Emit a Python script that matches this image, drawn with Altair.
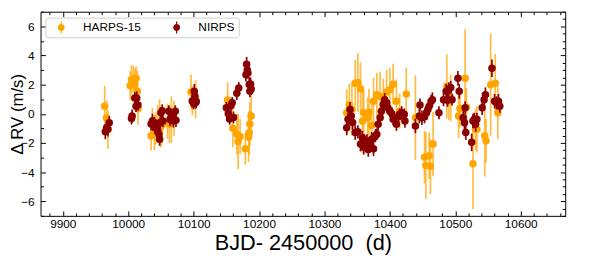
import altair as alt
import pandas as pd

# ---------------- data ----------------
harps_t = [9964, 9967, 9969,
           10003, 10005, 10008, 10010, 10012, 10014, 10015,
           10035, 10037, 10040, 10042, 10045, 10048, 10050, 10052,
           10060, 10063, 10066, 10070,
           10096, 10098, 10103,
           10152, 10160, 10166, 10168, 10171, 10179, 10184, 10185, 10186, 10188,
           10334, 10338, 10342, 10347, 10351, 10355, 10358, 10360, 10366, 10368,
           10372, 10375, 10380, 10385, 10390, 10395, 10400, 10405, 10410, 10415,
           10425, 10439, 10453, 10455, 10460, 10462, 10466, 10487, 10490, 10493,
           10505, 10507, 10515, 10517, 10527, 10531, 10533, 10545, 10547, 10554,
           10561, 10565]
harps_rv = [0.52, -0.27, -1.1,
            1.93, 2.33, 2.4, 2.0, 2.44, 1.54, 0.35,
            -1.51, -0.6, -1.3, -1.0, -0.7, -0.6, -0.9, -0.72,
            -0.5, -0.7, -0.4, -0.3,
            1.5, 0.9, 1.0,
            0.95, -1.0, -1.4, -1.9, -1.55, -2.4, -1.6, -1.3, -0.7, -0.15,
            0.07, 0.6, 0.3, 2.1, 2.15, 1.72, -0.5, 0.07, -0.27, 0.1,
            -0.8, 0.86, 1.31, 1.2, 1.0, 1.5, 1.65, 2.03, 0.86, 0.18,
            1.36, -0.27, -2.98, -3.55, -2.87, -3.6, -2.08, 1.88, 0.86, 1.1,
            -0.16, 0.36, 2.44, 0.45, -3.43, -1.06, -1.06, -1.51, -1.85, 1.99,
            2.1, 0.07]
harps_err = [1.4, 1.2, 1.3,
             1.0, 1.0, 0.9, 1.1, 0.8, 1.4, 1.1,
             1.0, 1.0, 1.2, 1.1, 1.3, 1.6, 1.4, 1.3,
             1.2, 1.3, 1.6, 1.2,
             1.2, 1.0, 1.3,
             1.2, 1.3, 1.4, 1.9, 1.2, 1.1, 1.7, 1.5, 1.5, 1.6,
             1.6, 1.5, 1.8, 1.6, 2.0, 1.8, 2.2, 1.5, 1.4, 1.6,
             1.5, 1.6, 1.5, 1.7, 1.4, 1.5, 1.5, 1.4, 1.5, 1.2,
             1.8, 2.9, 1.8, 2.3, 1.6, 1.9, 2.2, 2.2, 1.3, 1.6,
             1.5, 1.3, 3.35, 1.3, 3.1, 1.4, 1.6, 2.8, 1.5, 3.5,
             2.0, 1.8]

nirps_t = [9965, 9967, 9969, 9971,
           10005, 10006, 10010, 10012, 10013, 10015,
           10035, 10037, 10040, 10041, 10043, 10045, 10047, 10048, 10049, 10050,
           10052, 10053,
           10062, 10064, 10066, 10069, 10072, 10073,
           10098, 10100, 10101, 10102, 10103, 10104,
           10150, 10153, 10155, 10157, 10159, 10161, 10166, 10169, 10180, 10181,
           10182, 10183, 10185, 10186, 10187, 10188,
           10334, 10336, 10339, 10341, 10343, 10347, 10351, 10355, 10358, 10360,
           10363, 10365, 10367, 10370, 10372, 10375, 10378, 10380, 10382, 10385,
           10387, 10390, 10392, 10395, 10397, 10400, 10403, 10405, 10410, 10413,
           10415, 10418, 10422, 10423, 10439, 10445, 10446, 10449, 10453, 10456,
           10458, 10460, 10463, 10465, 10475, 10482, 10486, 10488, 10490, 10493,
           10495, 10504, 10506, 10512, 10514, 10515, 10516, 10525, 10527, 10529,
           10531, 10533, 10541, 10544, 10546, 10556, 10560, 10563, 10566, 10568]
nirps_rv = [-1.24, -0.95, -1.05, -0.61,
            -0.33, -0.16, 1.09, 0.52, 1.09, 0.6,
            -0.7, -0.5, -0.61, -0.95, -0.8, -1.17, -1.4, -1.74, -0.6, 0.07,
            0.2, -0.5,
            0.18, -0.4, -0.2, -0.5, 0.18, -0.45,
            0.87, 0.7, 1.54, 1.2, 0.76, 0.85,
            0.41, 0.0, -0.35, 0.55, 0.75, -0.25, 1.4, 1.77, 2.67, 3.4,
            3.0, 2.8, 2.0, 1.54, 2.05, 1.7,
            -0.95, -0.38, 0.3, -0.16, -0.6, -1.29, -1.24, -2.08, -1.63, -2.3,
            -2.2, -1.9, -2.45, -2.2, -1.75, -2.4, -1.5, -1.4, -0.72, -0.27,
            0.18, 0.63, 0.97, 0.75, 0.41, 0.18, 0.0, -0.38, -0.72, -0.2,
            -0.04, 0.07, -0.04, -0.5, -0.83, -0.16, 0.6, -0.27, -0.2, 0.07,
            0.3, 0.52, 0.86, 0.97, 0.07, 0.97, 1.54, 0.93, 1.65, 1.81,
            0.97, 2.44, 1.54, -0.27, -0.61, 0.41, -1.29, -1.96, -0.5, -0.38,
            -0.72, -0.38, 0.41, 0.97, 1.31, 3.12, 0.86, 0.75, 0.86, 0.52]
nirps_err = [0.5, 0.5, 0.5, 0.45,
             0.4, 0.45, 0.4, 0.4, 0.45, 0.4,
             0.45, 0.5, 0.4, 0.45, 0.4, 0.5, 0.4, 0.45, 0.4, 0.4,
             0.45, 0.4,
             0.4, 0.45, 0.4, 0.45, 0.4, 0.45,
             0.45, 0.4, 0.5, 0.45, 0.4, 0.45,
             0.4, 0.45, 0.4, 0.45, 0.4, 0.4, 0.45, 0.4, 0.45, 0.5,
             0.45, 0.4, 0.5, 0.4, 0.45, 0.4,
             0.5, 0.45, 0.5, 0.45, 0.5, 0.5, 0.45, 0.5, 0.45, 0.5,
             0.45, 0.5, 0.5, 0.45, 0.5, 0.5, 0.45, 0.4, 0.45, 0.4,
             0.45, 0.4, 0.45, 0.4, 0.45, 0.4, 0.45, 0.4, 0.45, 0.4,
             0.4, 0.45, 0.4, 0.45, 0.5, 0.5, 0.45, 0.5, 0.45, 0.5,
             0.45, 0.5, 0.45, 0.5, 0.45, 0.45, 0.5, 0.45, 0.5, 0.45,
             0.4, 0.5, 0.5, 0.45, 0.5, 0.45, 0.5, 0.6, 0.5, 0.45,
             0.5, 0.45, 0.5, 0.45, 0.5, 0.6, 0.5, 0.45, 0.5, 0.45]

instruments = ["HARPS-15", "NIRPS"]
inst_colors = ["#FFA500", "#8B0000"]

x_ticks = list(range(9880, 10661, 20))          # major every 100, minor every 20
y_ticks = [v / 2 for v in range(-14, 15)]         # major every 2, minor every 0.5
x_domain = [9866, 10668]
y_domain = [-7, 7]

x_title = "BJD- 2450000\u00a0\u00a0(d)"
y_title = "\u0394 RV (m/s)"

# ---------------- table ----------------
rows = []
for name, ts, vs, es in [("HARPS-15", harps_t, harps_rv, harps_err),
                         ("NIRPS", nirps_t, nirps_rv, nirps_err)]:
    for t, v, e in zip(ts, vs, es):
        rows.append({"inst": name, "t": t, "rv": v, "lo": v - e, "hi": v + e})
df = pd.DataFrame(rows)

FONT = "Liberation Sans"
W, H = 532, 207

xscale = alt.Scale(domain=x_domain, nice=False, zero=False)
yscale = alt.Scale(domain=y_domain, nice=False, zero=False)

x_major = "datum.value % 100 === 0"
y_major = "datum.value % 2 === 0"


def inward(test, major, minor):
    # conditional tick length per tick value (sign chosen so ticks point inward)
    return {"condition": {"test": test, "value": major}, "value": minor}


x_axis_main = alt.Axis(
    values=x_ticks, format="d", labelExpr=f"{x_major} ? datum.label : ''",
    tickSize=inward(x_major, -5, -3), tickColor="black", tickWidth=1,
    domain=False, grid=False,
    labelFont=FONT, labelFontSize=12, labelColor="black", labelPadding=8,
    labelOverlap=False, labelFlush=False,
    title=x_title, titleFont=FONT, titleFontSize=22, titleFontWeight="normal",
    titleColor="black", titleX=W / 2, titleY=34, titleBaseline="alphabetic",
)
y_axis_main = alt.Axis(
    values=y_ticks, format="d", labelExpr=f"{y_major} ? datum.label : ''",
    tickSize=inward(y_major, -5, -3), tickColor="black", tickWidth=1,
    domain=False, grid=False,
    labelFont=FONT, labelFontSize=12, labelColor="black", labelPadding=11.5,
    labelOverlap=False, labelFlush=False,
    title=y_title, titleFont=FONT, titleFontSize=17, titleFontWeight="normal",
    titleColor="black", titleX=-18, titleY=H / 2, titleBaseline="alphabetic",
)
x_axis_top = alt.Axis(
    orient="top", values=x_ticks, labels=False, domain=False, grid=False,
    tickSize=inward(x_major, -5, -3), tickColor="black", tickWidth=1, title="",
)
y_axis_right = alt.Axis(
    orient="right", values=y_ticks, labels=False, domain=False, grid=False,
    tickSize=inward(y_major, -5, -3), tickColor="black", tickWidth=1, title="",
)

legend_symbol = ("M 0.42 0 A 0.58 0.58 0 1 1 1.58 0 A 0.58 0.58 0 1 1 0.42 0 Z "
                 "M 0.9 -1 L 1.1 -1 L 1.1 1 L 0.9 1 Z")
legend = alt.Legend(
    title="", orient="none", legendX=5, legendY=6, direction="horizontal",
    padding=4, strokeColor="#cfcfcf", cornerRadius=3, fillColor="white",
    labelFont=FONT, labelFontSize=12, labelColor="black", labelOffset=22,
    columnPadding=24, symbolType=legend_symbol, symbolSize=144,
    symbolStrokeWidth=0, symbolOpacity=1,
)
color = alt.Color("inst:N", scale=alt.Scale(domain=instruments, range=inst_colors),
                  legend=legend)

base = alt.Chart(df)
PT = 58

h_bars = base.transform_filter(alt.datum.inst == "HARPS-15").mark_rule(
    color="#FFA500", opacity=0.75, strokeWidth=1.7
).encode(
    x=alt.X("t:Q", scale=xscale, axis=x_axis_main),
    y=alt.Y("lo:Q", scale=yscale, axis=y_axis_main),
    y2="hi:Q",
)
h_pts = base.transform_filter(alt.datum.inst == "HARPS-15").mark_circle(
    size=PT, opacity=1
).encode(
    x=alt.X("t:Q", scale=xscale, axis=None),
    y=alt.Y("rv:Q", scale=yscale, axis=None),
    color=color,
)
n_bars = base.transform_filter(alt.datum.inst == "NIRPS").mark_rule(
    color="#8B0000", strokeWidth=1.7
).encode(
    x=alt.X("t:Q", scale=xscale, axis=x_axis_top),
    y=alt.Y("lo:Q", scale=yscale, axis=y_axis_right),
    y2="hi:Q",
)
n_pts = base.transform_filter(alt.datum.inst == "NIRPS").mark_circle(
    size=PT, opacity=1
).encode(
    x=alt.X("t:Q", scale=xscale, axis=None),
    y=alt.Y("rv:Q", scale=yscale, axis=None),
    color=color,
)

chart = alt.layer(h_bars, h_pts, n_bars, n_pts).resolve_axis(
    x="independent", y="independent"
).properties(
    width=W, height=H,
    autosize=alt.AutoSizeParams(type="none"),
    padding={"left": 33, "top": 2, "right": 16, "bottom": 44},
    background="white",
).configure_view(stroke="black", strokeWidth=1)

chart.save("out.html", embed_options={"renderer": "svg", "actions": False})
